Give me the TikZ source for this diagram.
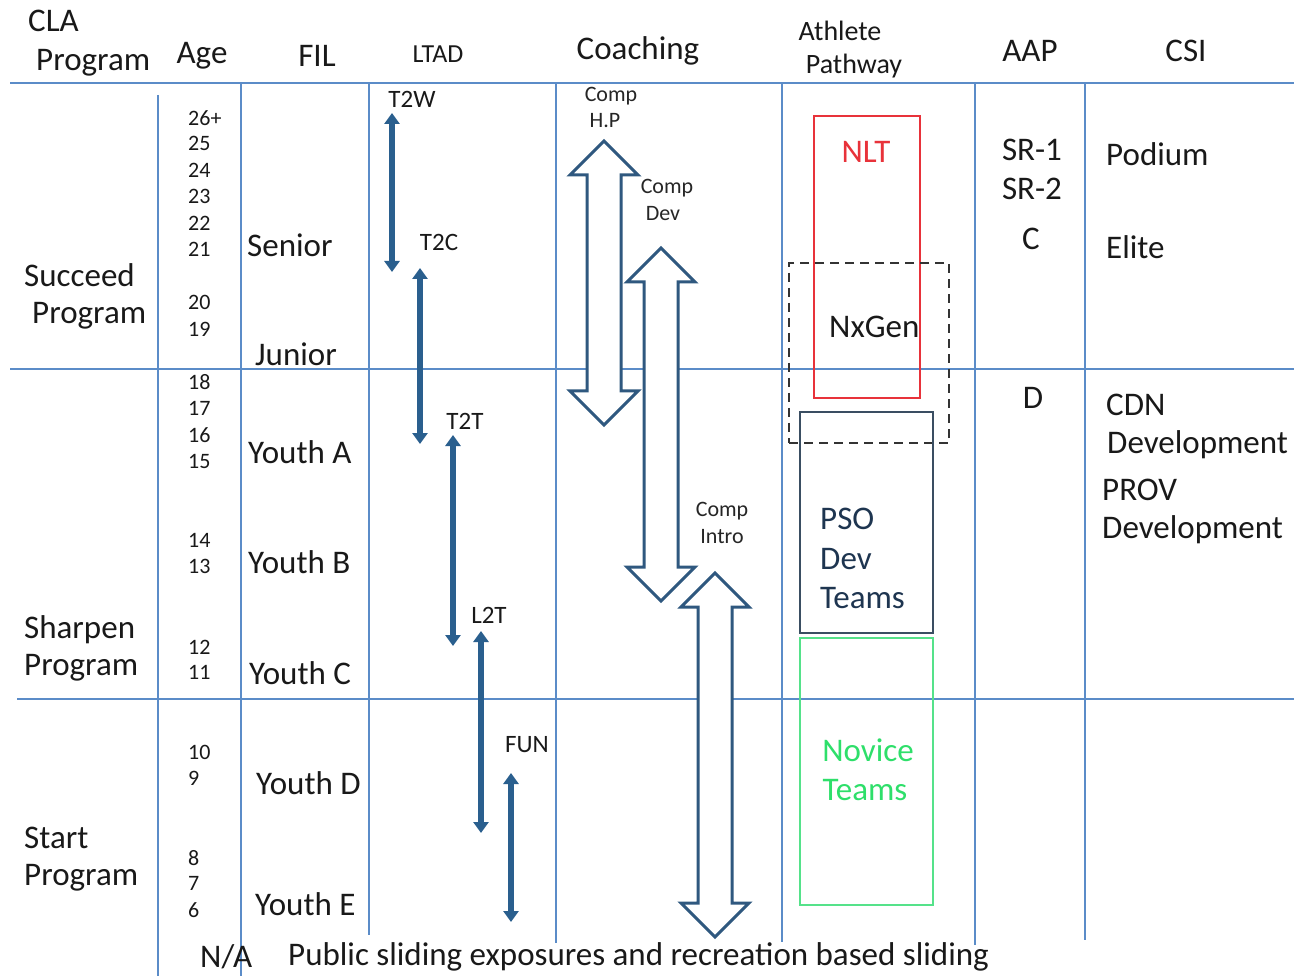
\documentclass[tikz,border=0pt]{standalone}
\usepackage{fontspec}
\setmainfont{Carlito}
\usepackage{tikz}
\usetikzlibrary{arrows.meta}

\definecolor{gridblue}{HTML}{5B8CC8}
\definecolor{ltadblue}{HTML}{2A5F8E}
\definecolor{coachblue}{HTML}{2F587F}
\definecolor{nltred}{HTML}{E8323A}
\definecolor{psoslate}{HTML}{3A4E62}
\definecolor{psotext}{HTML}{1E3550}
\definecolor{novgreen}{HTML}{55E28A}
\definecolor{novtext}{HTML}{2EDF6A}

\begin{document}
\begin{tikzpicture}[x=1pt,y=-1pt,
    hdr/.style={font=\fontsize{33}{39}\selectfont, inner sep=0pt, text=black!90},
    ltadhdr/.style={font=\fontsize{26}{31}\selectfont, inner sep=0pt, text=black!90},
    pathhdr/.style={font=\fontsize{28}{34}\selectfont, inner sep=0pt, text=black!90},
    agenum/.style={font=\fontsize{22}{26}\selectfont, inner sep=0pt, anchor=west, text=black!90},
    ltadlab/.style={font=\fontsize{25}{30}\selectfont, inner sep=0pt, text=black!90},
    complab/.style={font=\fontsize{22}{26}\selectfont, inner sep=0pt, text=black!85},
    grid/.style={gridblue, line width=1.8pt},
    ltad/.style={ltadblue, line width=5.5pt, {Triangle[width=15pt,length=11pt]}-{Triangle[width=15pt,length=11pt]}},
    hollow/.style={draw=coachblue, line width=3pt, fill=white, line join=miter},
    nltbox/.style={draw=nltred, line width=2pt, inner sep=0pt},
    nxgenbox/.style={draw=black!80, line width=2pt, dash pattern=on 9pt off 6pt, inner sep=0pt},
    psobox/.style={draw=psoslate, line width=2pt, inner sep=0pt},
    novbox/.style={draw=novgreen, line width=2pt, inner sep=0pt}]

  \useasboundingbox[fill=white] (0,0) rectangle (1294,976);

  % table lines
  \draw[grid] (10,83) -- (1294,83);
  \draw[grid] (10,369) -- (1294,369);
  \draw[grid] (17,699) -- (1294,699);
  \draw[grid] (158,95) -- (158,976);
  \draw[grid] (241,83) -- (241,976);
  \draw[grid] (369,83) -- (369,935);
  \draw[grid] (556,83) -- (556,943);
  \draw[grid] (782,83) -- (782,942);
  \draw[grid] (975,83) -- (975,945);
  \draw[grid] (1085,83) -- (1085,940);

  % header row
  \node[hdr, anchor=west] (cla) at (28,21) {CLA};
  \node[hdr, anchor=west] (cla_prog) at (36,63) {Program};
  \node[hdr] (age_h) at (202,56) {Age};
  \node[hdr] (fil_h) at (317,56) {FIL};
  \node[ltadhdr] (ltad_h) at (438,54) {LTAD};
  \node[hdr] (coach_h) at (638,51) {Coaching};
  \node[pathhdr] (athlete_h) at (840,31) {Athlete};
  \node[pathhdr] (pathway_h) at (854,66) {Pathway};
  \node[hdr] (aap_h) at (1030,51) {AAP};
  \node[hdr] (csi_h) at (1186,51) {CSI};

  % programs
  \node[hdr, anchor=west] (succeed) at (24,275) {Succeed};
  \node[hdr, anchor=west] (succeed_p) at (32,316) {Program};
  \node[hdr, anchor=west] (sharpen) at (24,630) {Sharpen};
  \node[hdr, anchor=west] (sharpen_p) at (24,668) {Program};
  \node[hdr, anchor=west] (start) at (24,838) {Start};
  \node[hdr, anchor=west] (start_p) at (24,878) {Program};

  % ages
  \node[agenum] (age_26) at (188,118) {26+};
  \node[agenum] (age_25) at (188,143) {25};
  \node[agenum] (age_24) at (188,170) {24};
  \node[agenum] (age_23) at (188,196) {23};
  \node[agenum] (age_22) at (188,223) {22};
  \node[agenum] (age_21) at (188,249) {21};
  \node[agenum] (age_20) at (188,302) {20};
  \node[agenum] (age_19) at (188,329) {19};
  \node[agenum] (age_18) at (188,382) {18};
  \node[agenum] (age_17) at (188,408) {17};
  \node[agenum] (age_16) at (188,435) {16};
  \node[agenum] (age_15) at (188,461) {15};
  \node[agenum] (age_14) at (188,540) {14};
  \node[agenum] (age_13) at (188,566) {13};
  \node[agenum] (age_12) at (188,647) {12};
  \node[agenum] (age_11) at (188,672) {11};
  \node[agenum] (age_10) at (188,752) {10};
  \node[agenum] (age_9) at (188,778) {9};
  \node[agenum] (age_8) at (188,858) {8};
  \node[agenum] (age_7) at (188,883) {7};
  \node[agenum] (age_6) at (188,910) {6};

  % FIL classes
  \node[hdr, anchor=west] (senior) at (247,245) {Senior};
  \node[hdr, anchor=west] (junior) at (255,354) {Junior};
  \node[hdr, anchor=west] (youth_a) at (248,452) {Youth A};
  \node[hdr, anchor=west] (youth_b) at (248,562) {Youth B};
  \node[hdr, anchor=west] (youth_c) at (249,673) {Youth C};
  \node[hdr, anchor=west] (youth_d) at (256,783) {Youth D};
  \node[hdr, anchor=west] (youth_e) at (255,904) {Youth E};

  % LTAD stages
  \node[ltadlab] (t2w) at (412,99) {T2W};
  \node[ltadlab] (t2c) at (439,242) {T2C};
  \node[ltadlab] (t2t) at (465,421) {T2T};
  \node[ltadlab] (l2t) at (489,615) {L2T};
  \node[ltadlab] (fun) at (527,745) {FUN};
  \coordinate (t2w_a) at (392,113);
  \coordinate (t2w_b) at (392,272);
  \coordinate (t2c_a) at (420,268);
  \coordinate (t2c_b) at (420,444);
  \coordinate (t2t_a) at (453,435);
  \coordinate (t2t_b) at (453,646);
  \coordinate (l2t_a) at (481,631);
  \coordinate (l2t_b) at (481,833);
  \coordinate (fun_a) at (511,773);
  \coordinate (fun_b) at (511,922);
  \draw[ltad] (t2w_a) -- (t2w_b);
  \draw[ltad] (t2c_a) -- (t2c_b);
  \draw[ltad] (t2t_a) -- (t2t_b);
  \draw[ltad] (l2t_a) -- (l2t_b);
  \draw[ltad] (fun_a) -- (fun_b);

  % coaching levels
  \node[complab] (hp_1) at (611,96) {Comp};
  \node[complab] (hp_2) at (605,121) {H.P};
  \node[complab] (dev_1) at (667,188) {Comp};
  \node[complab] (dev_2) at (663,214) {Dev};
  \node[complab] (intro_1) at (722,511) {Comp};
  \node[complab] (intro_2) at (722,537) {Intro};
  \coordinate (hp_tip) at (604,141);
  \coordinate (dev_tip) at (661,248);
  \coordinate (intro_tip) at (715,573);
  \draw[hollow] (hp_tip) -- ++(34,34) -- ++(-17,0) -- ++(0,216) -- ++(17,0)
    -- ++(-34,34) -- ++(-34,-34) -- ++(17,0) -- ++(0,-216) -- ++(-17,0) -- cycle;
  \draw[hollow] (dev_tip) -- ++(34,34) -- ++(-17,0) -- ++(0,285) -- ++(17,0)
    -- ++(-34,34) -- ++(-34,-34) -- ++(17,0) -- ++(0,-285) -- ++(-17,0) -- cycle;
  \draw[hollow] (intro_tip) -- ++(34,34) -- ++(-17,0) -- ++(0,296) -- ++(17,0)
    -- ++(-34,34) -- ++(-34,-34) -- ++(17,0) -- ++(0,-296) -- ++(-17,0) -- cycle;

  % athlete pathway
  \node[nltbox, minimum width=106pt, minimum height=282pt] (nlt_box) at (867,257) {};
  \node[nxgenbox, minimum width=160pt, minimum height=180pt] (nxgen_box) at (869,353) {};
  \node[psobox, minimum width=133pt, minimum height=221pt] (pso_box) at (866.5,522.5) {};
  \node[novbox, minimum width=133pt, minimum height=267pt] (nov_box) at (866.5,771.5) {};
  \node[hdr, text=nltred] (nlt) at (866,152) {NLT};
  \node[hdr, anchor=west] (nxgen) at (829,327) {NxGen};
  \node[hdr, anchor=west, text=psotext] (pso) at (820,519) {PSO};
  \node[hdr, anchor=west, text=psotext] (pso_dev) at (820,559) {Dev};
  \node[hdr, anchor=west, text=psotext] (pso_teams) at (820,598) {Teams};
  \node[hdr, text=novtext] (novice) at (868,750) {Novice};
  \node[hdr, text=novtext] (novice_teams) at (865,790) {Teams};

  % AAP
  \node[hdr] (sr1) at (1032,150) {SR-1};
  \node[hdr] (sr2) at (1032,189) {SR-2};
  \node[hdr] (aap_c) at (1031,239) {C};
  \node[hdr] (aap_d) at (1033,398) {D};

  % CSI
  \node[hdr, anchor=west] (podium) at (1106,154) {Podium};
  \node[hdr, anchor=west] (elite) at (1106,247) {Elite};
  \node[hdr, anchor=west] (cdn) at (1106,405) {CDN};
  \node[hdr, anchor=west] (cdn_dev) at (1107,445) {Development};
  \node[hdr, anchor=west] (prov) at (1102,490) {PROV};
  \node[hdr, anchor=west] (prov_dev) at (1102,530) {Development};

  % bottom row
  \node[hdr, anchor=west] (na) at (200,957) {N/A};
  \node[hdr, anchor=west] (public) at (288,957) {Public sliding exposures and recreation based sliding};

\end{tikzpicture}
\end{document}
